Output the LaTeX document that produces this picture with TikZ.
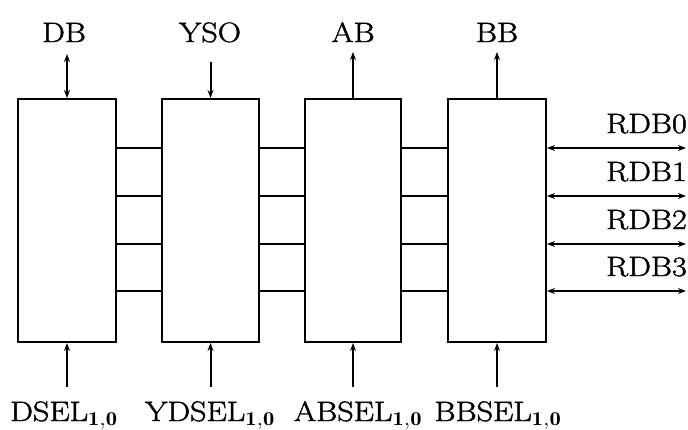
\documentclass[tikz,border=0pt]{standalone}
\usepackage{fontspec}
\usetikzlibrary{arrows.meta}
\newfontfamily\lblfont{Latin Modern Roman}[RawFeature={embolden=1.5}]
\newcommand{\wlbl}[1]{\scalebox{1.15}[1]{#1}}
\begin{document}
\begin{tikzpicture}[x=1pt,y=-1pt,
  blk/.style={draw, line width=2pt, minimum height=243pt, inner sep=0pt},
  wire/.style={line width=1.6pt},
  arr/.style={line width=2pt, -{Stealth[length=8pt,width=6pt]}},
  darr/.style={line width=2pt, {Stealth[length=8pt,width=6pt]}-{Stealth[length=8pt,width=6pt]}},
  lbl/.style={font=\lblfont\fontsize{28}{32}\selectfont, inner sep=0pt}]
\useasboundingbox (0,0) rectangle (688,429);
\node[blk, minimum width=98pt] (b1) at (67,220.5) {};
\node[blk, minimum width=97pt] (b2) at (210.5,220.5) {};
\node[blk, minimum width=96pt] (b3) at (353,220.5) {};
\node[blk, minimum width=98pt] (b4) at (497,220.5) {};
% inter-block wires
\foreach \yy in {148,196,244,291}{
  \draw[wire] (b1.east |- 0,\yy) -- (b2.west |- 0,\yy);
  \draw[wire] (b2.east |- 0,\yy) -- (b3.west |- 0,\yy);
  \draw[wire] (b3.east |- 0,\yy) -- (b4.west |- 0,\yy);
}
% right bidirectional buses
\foreach \yy/\t in {148/0,196/1,244/2,291/3}{
  \coordinate (r\t) at (686,\yy);
  \draw[darr] (b4.east |- r\t) -- (r\t);
  \node[lbl, anchor=base east] (rl\t) at (687,{\yy-15}) {\wlbl{RDB\t}};
}
% top
\node[lbl, anchor=base] (db) at (64,42) {\wlbl{DB}};
\node[lbl, anchor=base] (yso) at (210,42) {\wlbl{YSO}};
\node[lbl, anchor=base] (ab) at (353,42) {\wlbl{AB}};
\node[lbl, anchor=base] (bb) at (497,42) {\wlbl{BB}};
\coordinate (tdb) at (67,54);
\coordinate (tyso) at (210.5,62);
\coordinate (tab) at (353,52);
\coordinate (tbb) at (497,52);
\draw[darr] (b1.north) -- (tdb);
\draw[arr] (tyso) -- (b2.north);
\draw[arr] (b3.north) -- (tab);
\draw[arr] (b4.north) -- (tbb);
% bottom
\foreach \n/\xx in {1/67,2/210.5,3/353,4/497}{
  \coordinate (s\n) at (\xx,387);
  \draw[arr] (s\n) -- (b\n.south);
}
\node[lbl, anchor=base] (l1) at (64,421) {\wlbl{DSEL$_{\mathbf{1,0}}$}};
\node[lbl, anchor=base] (l2) at (210,421) {\wlbl{YDSEL$_{\mathbf{1,0}}$}};
\node[lbl, anchor=base] (l3) at (358,421) {\wlbl{ABSEL$_{\mathbf{1,0}}$}};
\node[lbl, anchor=base] (l4) at (498,421) {\wlbl{BBSEL$_{\mathbf{1,0}}$}};
\end{tikzpicture}
\end{document}
